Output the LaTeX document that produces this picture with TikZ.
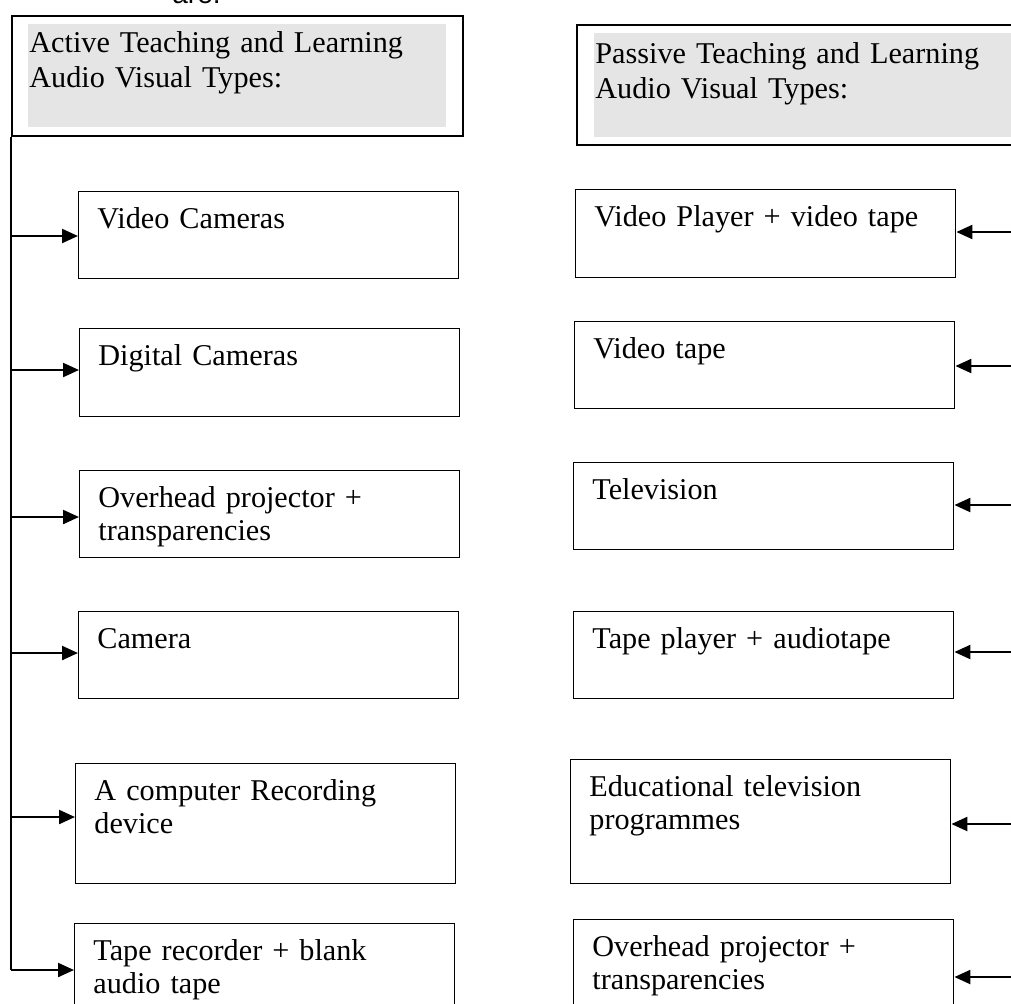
\documentclass[tikz,border=0pt]{standalone}
\usepackage{fontspec}
\setmainfont{Liberation Serif}
\newfontfamily\arialfont{Liberation Sans}
\usetikzlibrary{arrows.meta}
\definecolor{hdrgray}{RGB}{229,229,229}
\begin{document}
\begin{tikzpicture}[x=0.5pt,y=-0.5pt,
  itembox/.style={draw=black, line width=0.7pt, minimum width=190pt, minimum height=43.5pt, anchor=north west, inner sep=0pt},
  tallbox/.style={itembox, minimum height=60pt},
  hdrbox/.style={draw=black, line width=0.85pt, minimum width=225.5pt, minimum height=60pt, anchor=north west, inner sep=0pt},
  shade/.style={fill=hdrgray, draw=none, anchor=north west, inner sep=0pt},
  itemtext/.style={anchor=base west, inner sep=0pt, text width=185pt, align=left, font=\fontsize{15.1pt}{16.5pt}\selectfont},
  hdrtext/.style={itemtext, text width=215pt, font=\fontsize{15.1pt}{17.75pt}\selectfont},
  feed/.style={line width=1.1pt, -{Triangle[length=8pt,width=7pt]}},
  trunk/.style={line width=0.8pt}
]
\useasboundingbox (0,0) rectangle (1011,1003);
\clip (0,0) rectangle (1011,1003);

% running text above the chart
\node[anchor=base west, inner sep=0pt, font=\arialfont\fontsize{14pt}{16pt}\selectfont] (cap) at (172,3) {are:};

% ---- headers ----
\node[shade, minimum width=209pt, minimum height=51.5pt] (hlshade) at (28,24) {};
\node[hdrbox] (hl) at (11,15) {};
\node[hdrtext] (hltext) at (29,52) {Active Teaching and Learning\\Audio Visual Types:};

\node[shade, minimum width=220pt, minimum height=52pt] (hrshade) at (594,33) {};
\node[hdrbox] (hr) at (576,24) {};
\node[hdrtext] (hrtext) at (595,63) {Passive Teaching and Learning\\Audio Visual Types:};

% ---- active column ----
\node[itembox] (l1) at (78,191) {};
\node[itembox, minimum height=44pt] (l2) at (79,328) {};
\node[itembox] (l3) at (79,470) {};
\node[itembox] (l4) at (78,611) {};
\node[tallbox] (l5) at (75,763) {};
\node[tallbox] (l6) at (74,923) {};

\node[itemtext] at ([xshift=9.5pt,yshift=-18.5pt]l1.north west) {Video Cameras};
\node[itemtext] at ([xshift=9.5pt,yshift=-18.5pt]l2.north west) {Digital Cameras};
\node[itemtext] at ([xshift=9.5pt,yshift=-18.5pt]l3.north west) {Overhead projector +\\transparencies};
\node[itemtext] at ([xshift=9.5pt,yshift=-18.5pt]l4.north west) {Camera};
\node[itemtext] at ([xshift=9.5pt,yshift=-18.5pt]l5.north west) {A computer Recording\\device};
\node[itemtext] at ([xshift=9.5pt,yshift=-18.5pt]l6.north west) {Tape recorder + blank\\audio tape};

% ---- passive column ----
\node[itembox, minimum height=44pt] (r1) at (575,189) {};
\node[itembox] (r2) at (574,321) {};
\node[itembox] (r3) at (573,462) {};
\node[itembox] (r4) at (573,611) {};
\node[tallbox, minimum height=62pt] (r5) at (570,759) {};
\node[tallbox] (r6) at (573,919) {};

\node[itemtext] at ([xshift=9.5pt,yshift=-18.5pt]r1.north west) {Video Player + video tape};
\node[itemtext] at ([xshift=9.5pt,yshift=-18.5pt]r2.north west) {Video tape};
\node[itemtext] at ([xshift=9.5pt,yshift=-18.5pt]r3.north west) {Television};
\node[itemtext] at ([xshift=9.5pt,yshift=-18.5pt]r4.north west) {Tape player + audiotape};
\node[itemtext] at ([xshift=9.5pt,yshift=-18.5pt]r5.north west) {Educational television\\programmes};
\node[itemtext] at ([xshift=9.5pt,yshift=-18.5pt]r6.north west) {Overhead projector +\\transparencies};

% ---- left trunk and branches ----
\coordinate (s1) at (11,236);
\coordinate (s2) at (11,370);
\coordinate (s3) at (11,517);
\coordinate (s4) at (11,653);
\coordinate (s5) at (11,817);
\coordinate (s6) at (11,970);
\draw[trunk] (hl.south west) -- (s6);
\foreach \i in {1,...,6} {
  \draw[feed] (s\i) -- (l\i.west |- s\i);
}

% ---- right branches from the page edge ----
\coordinate (e1) at (1015,232);
\coordinate (e2) at (1015,366);
\coordinate (e3) at (1015,505);
\coordinate (e4) at (1015,652);
\coordinate (e5) at (1015,824);
\coordinate (e6) at (1015,977);
\foreach \i in {1,...,6} {
  \draw[feed] (e\i) -- (r\i.east |- e\i);
}
\end{tikzpicture}
\end{document}
